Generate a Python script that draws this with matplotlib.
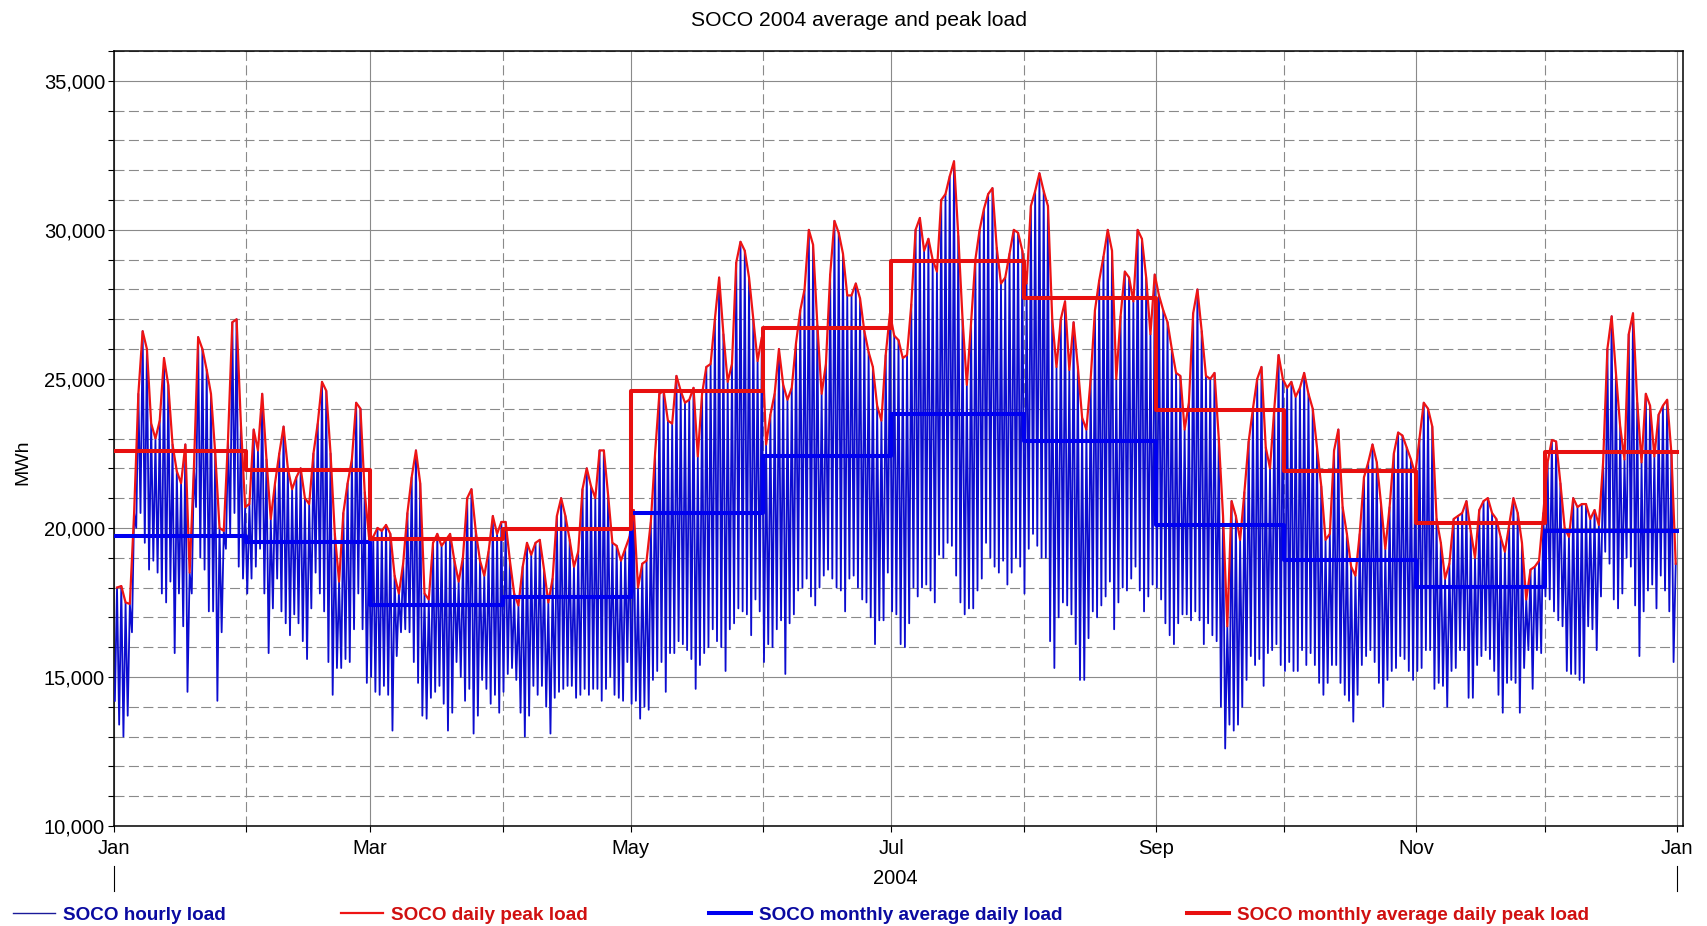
import numpy as np
import pandas as pd
import matplotlib
matplotlib.use('Agg')
import matplotlib.pyplot as plt
import matplotlib.dates as mdates
import matplotlib.ticker as mticker
import matplotlib.transforms as mtransforms
from matplotlib import font_manager
from matplotlib.lines import Line2D

# ---------------- data ----------------
title = "SOCO 2004 average and peak load"
ylabel = "MWh"
year_label = "2004"
legend_labels = ["SOCO hourly load", "SOCO daily peak load",
                 "SOCO monthly average daily load", "SOCO monthly average daily peak load"]

# daily peak load, MWh (Jan 1 .. Dec 31, 2004)
peak_jan = [18000, 18050, 17500, 17450, 20500, 24500, 26600, 26000, 23500, 23000, 23600, 25700, 24800, 22800, 21900, 21500,
            22800, 18500, 22000, 26400, 26000, 25300, 24500, 22500, 20000, 19900, 23000, 26900, 27000, 23500, 20700]
peak_feb = [20800, 23300, 22600, 24500, 22300, 20300, 21500, 22500, 23400, 22000, 21300, 21700, 22000, 21000, 20800,
            22500, 23500, 24900, 24600, 22500, 19800, 18200, 20500, 21500, 22300, 24200, 24000, 21200, 19700]
peak_mar = [19700, 20000, 19900, 20100, 19800, 18400, 17800, 18800, 20500, 21700, 22600, 21500, 17800, 17600, 19500, 19800,
            19400, 19600, 19800, 18900, 18200, 19000, 21000, 21300, 19900, 18900, 18400, 19200, 20400, 19800, 20200]
peak_apr = [20200, 18900, 17800, 17400, 18700, 19500, 19100, 19500, 19600, 18600, 17500, 18300, 20400, 21000, 20400,
            19600, 18700, 19200, 21300, 22000, 21400, 21000, 22600, 22600, 21100, 19500, 19400, 18900, 19300, 19700]
peak_may = [20600, 18000, 18800, 18900, 20200, 22500, 24500, 24600, 23600, 23500, 25100, 24600, 24200, 24300, 24700, 22400,
            24500, 25400, 25500, 27000, 28400, 26500, 24900, 25500, 28900, 29600, 29300, 28400, 27000, 25600, 26400]
peak_jun = [22800, 23800, 24500, 26000, 24800, 24300, 24700, 26200, 27300, 28000, 30000, 29500, 26800, 24500, 25500,
            28500, 30300, 29900, 29200, 27800, 27800, 28200, 27700, 26600, 25900, 25400, 24100, 23600, 25800, 27200]
peak_jul = [26450, 26300, 25700, 25800, 27500, 30000, 30400, 29300, 29700, 29000, 28600, 31000, 31200, 31800, 32300, 29800,
            27000, 24800, 26900, 29000, 30000, 30700, 31200, 31400, 29400, 28200, 28400, 29200, 30000, 29900, 29300]
peak_aug = [28200, 30800, 31300, 31900, 31300, 30800, 27000, 25400, 27000, 27600, 25300, 26900, 25400, 23700, 23300, 25000,
            27300, 28300, 29100, 30000, 29300, 25000, 27100, 28600, 28400, 27600, 30000, 29700, 28400, 26500, 28500]
peak_sep = [27800, 27300, 26900, 26000, 25200, 25100, 23300, 24200, 27200, 28000, 26600, 25100, 25000, 25200, 23000,
            20400, 16700, 20900, 20400, 19600, 21200, 22900, 24000, 25000, 25400, 22700, 22000, 24000, 25800, 25000]
peak_oct = [24700, 24900, 24400, 24700, 25200, 24500, 24000, 22700, 21400, 19600, 19800, 22600, 23300, 20700, 19800, 18700,
            18400, 19800, 21700, 22200, 22800, 22200, 20800, 19300, 20700, 22500, 23200, 23100, 22700, 22300, 21800]
peak_nov = [23000, 24200, 24000, 23400, 20300, 19500, 18300, 18800, 20300, 20400, 20500, 20900, 19900, 19000, 20600,
            20900, 21000, 20500, 20300, 19700, 19200, 20100, 21000, 20500, 19500, 17600, 18600, 18700, 18900, 20500]
peak_dec = [22200, 22950, 22900, 21500, 20000, 19700, 21000, 20700, 20800, 20800, 20300, 20600, 20100, 22200, 26000, 27100,
            25200, 23400, 22300, 26500, 27200, 24200, 22200, 24500, 24100, 22400, 23800, 24100, 24300, 22500, 18800]

# daily minimum of the hourly load, MWh
low_jan = [14200, 13400, 13000, 13700, 16500, 20000, 20500, 19500, 18600, 18900, 18500, 17800, 17500, 18200, 15800, 17800,
           16700, 14500, 17800, 20700, 19000, 18600, 17200, 17200, 14200, 16500, 19300, 19800, 20500, 18700, 18300]
low_feb = [17800, 18300, 18700, 19300, 17800, 15800, 17300, 18300, 17200, 16800, 16400, 17100, 16800, 16200, 15600,
           17300, 18500, 17800, 17200, 15500, 14400, 15300, 15300, 15600, 15500, 16600, 17800, 16600, 14800]
low_mar = [15000, 14500, 14400, 14700, 14400, 13200, 15700, 16500, 16600, 16500, 15500, 14800, 13700, 13600, 14300, 14500,
           14700, 14100, 13200, 13800, 15500, 15000, 14200, 14600, 13100, 13700, 14900, 14600, 14100, 14400, 13800]
low_apr = [14500, 15100, 15300, 14900, 13800, 13000, 13700, 14700, 14400, 14700, 14000, 13100, 14300, 14500, 14600,
           14700, 14700, 14300, 14400, 14600, 14400, 14600, 14600, 14200, 14600, 15000, 14400, 14300, 14200, 15500]
low_may = [14100, 14200, 13600, 14000, 13900, 14900, 15200, 15500, 14500, 15800, 15800, 16200, 16100, 15900, 15600, 14600,
           15400, 15800, 16000, 16600, 16200, 16000, 15200, 16600, 16800, 17300, 17200, 17100, 16400, 17600, 17200]
low_jun = [15500, 16100, 16000, 16600, 16900, 15100, 16800, 17100, 17900, 18000, 18300, 17700, 17400, 18000, 18400,
           18600, 18300, 18000, 17900, 17200, 18300, 18400, 18000, 17600, 17500, 17000, 16100, 16900, 16900, 18500]
low_jul = [17200, 17100, 16100, 16000, 16800, 18000, 17700, 18000, 18100, 17900, 17500, 19100, 19000, 19500, 19400, 18400,
           17500, 17100, 17300, 17300, 17900, 18300, 19500, 19000, 18700, 18500, 18900, 18100, 18500, 19000, 18700]
low_aug = [17800, 19300, 19800, 19400, 19000, 19000, 16200, 15300, 17000, 17500, 17400, 17100, 16100, 14900, 14900, 16300,
           17200, 17000, 17400, 17700, 18200, 16600, 17500, 18000, 17900, 18300, 18700, 17900, 17200, 17700, 18100]
low_sep = [18000, 17600, 16800, 16400, 16100, 16800, 17100, 17100, 16900, 17200, 16900, 16100, 16800, 16400, 16200,
           14000, 12600, 13400, 13200, 13400, 14000, 14900, 15700, 15400, 15600, 14700, 15800, 15900, 16100, 15400]
low_oct = [15200, 15500, 15200, 15200, 15900, 15400, 15800, 15400, 14800, 14400, 14800, 15400, 15400, 14800, 14400, 14200,
           13500, 14400, 15400, 15700, 15900, 15500, 14800, 14000, 14900, 15200, 15300, 15700, 15600, 15200, 14900]
low_nov = [15200, 15300, 15900, 15900, 14600, 14800, 14700, 14000, 15200, 15300, 15900, 15900, 14300, 14300, 15400,
           15700, 15900, 15600, 15200, 14400, 13800, 14800, 14900, 14800, 13800, 15300, 15900, 14600, 15900, 15800]
low_dec = [17700, 17600, 17200, 16900, 16700, 15200, 15100, 15100, 14900, 14800, 16700, 16600, 15900, 17700, 19200, 18800,
           17600, 17300, 17800, 19000, 18700, 17400, 15700, 17200, 17900, 18100, 17300, 18400, 17900, 17200, 15500]

# monthly averages, MWh
monthly_avg_load = [19730, 19525, 17410, 17667, 20513, 22410, 23820, 22920, 20100, 18910, 18010, 19900]
monthly_avg_peak = [22590, 21950, 19640, 19975, 24577, 26692, 28970, 27720, 23950, 21910, 20170, 22540]

daily_peak = np.array(peak_jan + peak_feb + peak_mar + peak_apr + peak_may + peak_jun +
                      peak_jul + peak_aug + peak_sep + peak_oct + peak_nov + peak_dec, dtype=float)
daily_low = np.array(low_jan + low_feb + low_mar + low_apr + low_may + low_jun +
                     low_jul + low_aug + low_sep + low_oct + low_nov + low_dec, dtype=float)

# ---------------- fonts ----------------
def has_font(name):
    try:
        font_manager.findfont(font_manager.FontProperties(family=name), fallback_to_default=False)
        return True
    except Exception:
        return False

plt.rcParams['font.family'] = ['Liberation Sans', 'DejaVu Sans']
if has_font('Liberation Sans Narrow'):
    leg_family, leg_size = ['Liberation Sans Narrow', 'Liberation Sans'], 15.5
else:
    leg_family, leg_size = ['Liberation Sans', 'DejaVu Sans'], 13.6

# ---------------- time axis ----------------
days = pd.date_range('2004-01-01', periods=366, freq='D')
month_starts = pd.date_range('2004-01-01', periods=13, freq='MS')
hourly_x = np.empty(2 * len(days), dtype='datetime64[ns]')
hourly_x[0::2] = (days + pd.Timedelta(hours=5)).values
hourly_x[1::2] = (days + pd.Timedelta(hours=17)).values
hourly_y = np.empty(2 * len(days))
hourly_y[0::2] = daily_low
hourly_y[1::2] = daily_peak
peak_x = (days + pd.Timedelta(hours=17)).values

W, H = 1708, 926
fig = plt.figure(figsize=(W / 100, H / 100), dpi=100)
ax = fig.add_axes([114 / W, 1 - 826 / H, (1683 - 114) / W, (826 - 51) / H])

c_hourly = '#0C0CD0'
c_peak = '#EE1414'
c_mblue = '#0000F0'
c_mred = '#E81010'

ax.plot(hourly_x, hourly_y, color=c_hourly, lw=1.3, zorder=3)
ax.plot(peak_x, daily_peak, color=c_peak, lw=1.6, zorder=4)
ax.plot(month_starts, monthly_avg_load + [monthly_avg_load[-1]], drawstyle='steps-post',
        color=c_mblue, lw=2.9, zorder=5)
ax.plot(month_starts, monthly_avg_peak + [monthly_avg_peak[-1]], drawstyle='steps-post',
        color=c_mred, lw=2.9, zorder=6)

ax.set_xlim(days[0], pd.Timestamp('2005-01-02 10:00'))
ax.set_ylim(10000, 36000)

# x ticks / grid
ax.xaxis.set_major_locator(mdates.MonthLocator(bymonth=[1, 3, 5, 7, 9, 11]))
ax.xaxis.set_minor_locator(mdates.MonthLocator(bymonth=[2, 4, 6, 8, 10, 12]))
ax.xaxis.set_major_formatter(mdates.DateFormatter('%b'))
ax.xaxis.set_minor_formatter(mticker.NullFormatter())
# y ticks / grid
ax.yaxis.set_major_locator(mticker.MultipleLocator(5000))
ax.yaxis.set_minor_locator(mticker.MultipleLocator(1000))
ax.yaxis.set_major_formatter(mticker.FuncFormatter(lambda v, p: f'{v:,.0f}'))

ax.grid(which='major', color='#8a8a8a', lw=0.8, ls='-', zorder=0)
ax.grid(which='minor', color='#8a8a8a', lw=0.8, ls=(0, (9, 4)), zorder=0)
ax.set_axisbelow(True)

ax.tick_params(axis='both', which='both', direction='out', length=4.5, width=0.8, color='black')
ax.tick_params(axis='x', which='major', labelsize=14.5, pad=5)
ax.tick_params(axis='y', which='major', labelsize=14.5, pad=2)
ax.tick_params(top=False, right=False)
for s in ax.spines.values():
    s.set_linewidth(1.1)
    s.set_color('black')

# year marks below the first and last January labels
trans = mtransforms.blended_transform_factory(ax.transData, ax.transAxes)
for d in [month_starts[0], month_starts[-1]]:
    ax.plot([d, d], [-0.052, -0.084], transform=trans, color='black', lw=0.8, clip_on=False)
mid = month_starts[0] + (month_starts[-1] - month_starts[0]) / 2
ax.text(mid, -0.068, year_label, transform=trans, ha='center', va='center', fontsize=14.5)

fig.text(859 / W, 1 - 20 / H, title, ha='center', va='center', fontsize=15.2)
fig.text(23 / W, 1 - 462 / H, ylabel, rotation=90, ha='center', va='center', fontsize=14)

# legend: one entry per slot, placed where the reference puts them
handles = [Line2D([], [], color='#1a1a9a', lw=1.0),
           Line2D([], [], color=c_peak, lw=1.6),
           Line2D([], [], color=c_mblue, lw=2.9),
           Line2D([], [], color=c_mred, lw=2.9)]
text_colors = ['#0A0AA0', '#D01010', '#0A0AA0', '#D01010']
slot_x = [13, 341, 709, 1187]
for h, lab, c, x0 in zip(handles, legend_labels, text_colors, slot_x):
    leg = fig.legend([h], [lab], loc='center left', bbox_to_anchor=(x0 / W, 1 - 915 / H),
                     frameon=False, borderpad=0, borderaxespad=0, handlelength=2.2,
                     handletextpad=0.45,
                     prop={'family': leg_family, 'weight': 'bold', 'size': leg_size})
    leg.get_texts()[0].set_color(c)

fig.savefig('out.png', dpi=100)
